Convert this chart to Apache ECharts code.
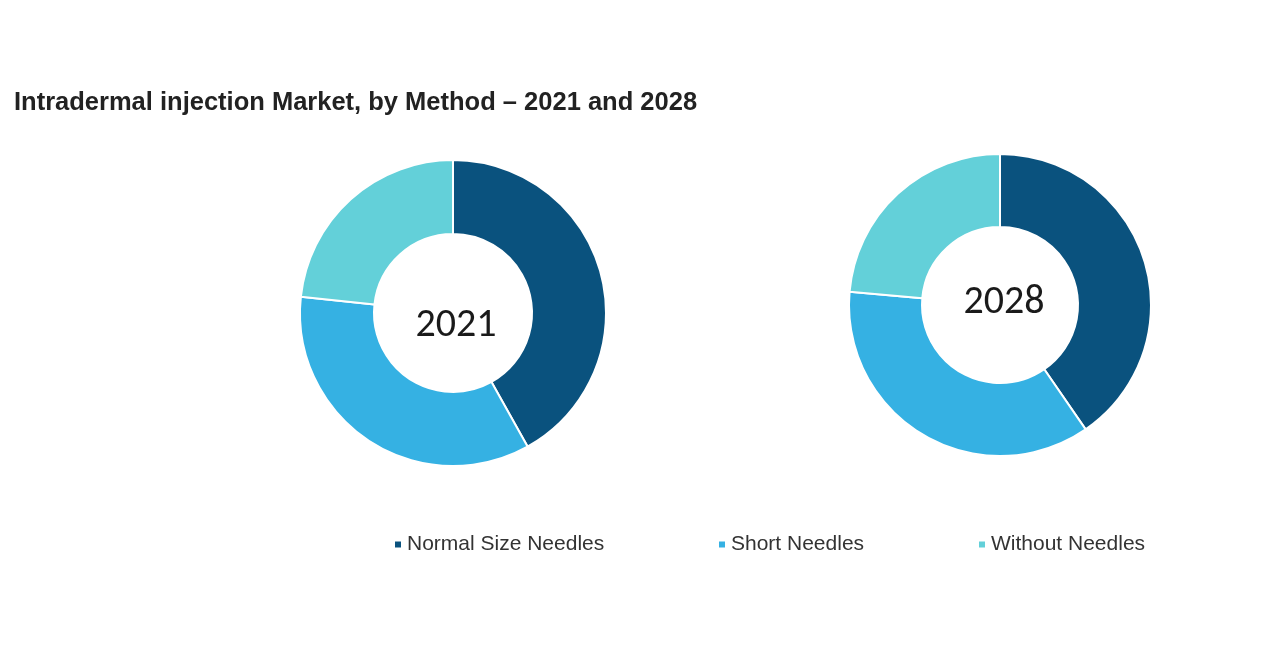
<!DOCTYPE html>
<html>
<head>
<meta charset="utf-8">
<script src="https://cdn.jsdelivr.net/npm/echarts@6/dist/echarts.min.js"></script>
<style>html,body{margin:0;padding:0;background:#fff}#c{width:1280px;height:670px}</style>
</head>
<body>
<div id="c"></div>
<script>
const categories = ['Normal Size Needles', 'Short Needles', 'Without Needles'];
const years = ['2021', '2028'];
const values2021 = [41.9, 34.8, 23.3];
const values2028 = [40.4, 36.0, 23.6];
const colors = ['#0a527e', '#35b1e3', '#63d0d9'];

const chart = echarts.init(document.getElementById('c'));
const mk = (vals) => categories.map((n, i) => ({ name: n, value: vals[i] }));
const legendBase = {
  orient: 'horizontal', icon: 'rect', itemWidth: 8, itemHeight: 8, itemGap: 0,
  textStyle: { fontFamily: 'Liberation Sans, Arial, sans-serif', fontSize: 21, color: '#333' },
  top: 529
};
chart.setOption({
  color: colors,
  animation: false,
  title: [
    { text: 'Intradermal injection Market, by Method – 2021 and 2028', left: 9, top: 85,
      textStyle: { fontFamily: 'Liberation Sans, Arial, sans-serif', fontWeight: 'bold', fontSize: 25.5, color: '#222' } },
    { text: years[0], left: 451, top: 321, textAlign: 'center', textVerticalAlign: 'middle',
      textStyle: { fontFamily: 'Carlito, Lato, sans-serif', fontWeight: 'normal', fontSize: 40, color: '#1a1a1a' } },
    { text: years[1], left: 999, top: 298, textAlign: 'center', textVerticalAlign: 'middle',
      textStyle: { fontFamily: 'Carlito, Lato, sans-serif', fontWeight: 'normal', fontSize: 40, color: '#1a1a1a' } }
  ],
  legend: [
    Object.assign({}, legendBase, { left: 388, data: [categories[0]] }),
    Object.assign({}, legendBase, { left: 712, data: [categories[1]] }),
    Object.assign({}, legendBase, { left: 972, data: [categories[2]] })
  ],
  series: [
    { type: 'pie', name: years[0], center: [453, 313], radius: [79, 153], startAngle: 90, clockwise: true,
      label: { show: false }, labelLine: { show: false },
      itemStyle: { borderColor: '#fff', borderWidth: 2 }, data: mk(values2021) },
    { type: 'pie', name: years[1], center: [1000, 305], radius: [78, 151], startAngle: 90, clockwise: true,
      label: { show: false }, labelLine: { show: false },
      itemStyle: { borderColor: '#fff', borderWidth: 2 }, data: mk(values2028) }
  ]
});
</script>
</body>
</html>
